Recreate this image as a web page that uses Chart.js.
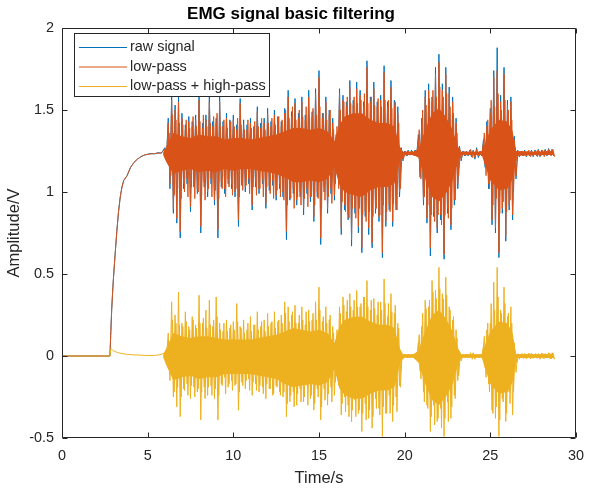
<!DOCTYPE html>
<html>
<head>
<meta charset="utf-8">
<title>EMG signal basic filtering</title>
<script src="https://cdn.jsdelivr.net/npm/chart.js@4/dist/chart.umd.min.js"></script>
<style>
  html, body { margin: 0; padding: 0; background: #fff; }
  canvas { display: block; }
</style>
</head>
<body>
<canvas id="emg-chart" width="593" height="489"></canvas>
<script>
var seriesLabels = ['raw signal', 'low-pass', 'low-pass + high-pass'];
var seriesColors = ['#0072BD', '#D95319', '#EDB120'];

var xTickValues = [0, 5, 10, 15, 20, 25, 30];
var xTickLabels = ['0', '5', '10', '15', '20', '25', '30'];
var yTickValues = [-0.5, 0, 0.5, 1, 1.5, 2];
var yTickLabels = ['-0.5', '0', '0.5', '1', '1.5', '2'];

// quiet start + step response of the filters (seconds / volts)
var riseTimes = [0, 2.8, 2.85, 2.9, 2.95, 3.0, 3.1, 3.2, 3.3, 3.4, 3.5, 3.6, 3.8, 4.0, 4.2, 4.4, 4.6, 4.8, 5.0, 5.2, 5.4, 5.6, 5.8];
var riseRaw = [0, 0, 0.15, 0.28, 0.38, 0.47, 0.62, 0.76, 0.88, 0.97, 1.03, 1.07, 1.10, 1.15, 1.18, 1.20, 1.215, 1.225, 1.23, 1.235, 1.232, 1.24, 1.236];
var riseLowPass = [0, 0, 0.15, 0.28, 0.38, 0.47, 0.62, 0.76, 0.88, 0.97, 1.03, 1.07, 1.10, 1.15, 1.18, 1.20, 1.215, 1.225, 1.23, 1.232, 1.235, 1.236, 1.238];
var riseBand = [0, 0, 0.045, 0.04, 0.036, 0.032, 0.027, 0.023, 0.02, 0.017, 0.015, 0.013, 0.01, 0.008, 0.007, 0.006, 0.005, 0.004, 0.003, 0.003, 0.004, 0.006, 0.01];

// spikes of the muscle activity part: peak read at each time, trough read half a step later
var burstTimes = [
  6.0, 6.2, 6.4, 6.6, 6.8, 7.0, 7.2, 7.4, 7.6, 7.8, 8.0, 8.2, 8.4, 8.6, 8.8, 9.0, 9.2, 9.4, 9.6, 9.8,
  10.0, 10.2, 10.4, 10.6, 10.8, 11.0, 11.2, 11.4, 11.6, 11.8, 12.0, 12.2, 12.4, 12.6, 12.8,
  13.0, 13.2, 13.4, 13.6, 13.8, 14.0, 14.2, 14.4, 14.6, 14.8, 15.0, 15.2, 15.4, 15.6, 15.8,
  16.0, 16.2, 16.4, 16.6, 16.8, 17.0, 17.2, 17.4, 17.6, 17.8, 18.0, 18.2, 18.4, 18.6, 18.8,
  19.0, 19.2, 19.4, 19.6, 19.8, 20.0, 20.2, 20.4, 20.6, 20.8, 21.0, 21.2, 21.4, 21.6, 21.8,
  22.0, 22.2, 22.4, 22.6, 22.8, 23.0, 23.2, 23.4, 23.6, 23.8, 24.0, 24.2, 24.4, 24.6, 24.8,
  25.0, 25.2, 25.4, 25.6, 25.8, 26.0, 26.2, 26.4, 26.6, 26.8, 27.0, 27.2, 27.4, 27.6, 27.8,
  28.0, 28.2, 28.4, 28.6
];

var rawPeaks = [
  1.27, 1.45, 1.59, 1.53, 1.58, 1.48, 1.41, 1.46, 1.43, 1.47, 1.59, 1.42, 1.47, 1.58, 1.43, 1.45, 1.58, 1.43, 1.48, 1.44,
  1.47, 1.41, 1.57, 1.44, 1.41, 1.45, 1.40, 1.52, 1.42, 1.45, 1.51, 1.43, 1.50, 1.46, 1.43,
  1.51, 1.62, 1.49, 1.57, 1.48, 1.58, 1.47, 1.62, 1.49, 1.63, 1.74, 1.48, 1.58, 1.50, 1.45,
  1.35, 1.63, 1.59, 1.55, 1.68, 1.56, 1.67, 1.62, 1.55, 1.80, 1.58, 1.67, 1.55, 1.59, 1.77,
  1.55, 1.68, 1.56, 1.52, 1.27, 1.25, 1.255, 1.255, 1.255, 1.35, 1.45, 1.62, 1.66, 1.58, 1.76,
  1.84, 1.66, 1.76, 1.64, 1.58, 1.45, 1.28, 1.25, 1.25, 1.255, 1.255, 1.27, 1.25, 1.32, 1.43,
  1.51, 1.74, 1.88, 1.59, 1.76, 1.56, 1.58, 1.34, 1.255, 1.25, 1.255, 1.25, 1.255, 1.255, 1.26,
  1.255, 1.26, 1.265, 1.26
];
var rawTroughs = [
  1.20, 1.02, 0.87, 0.81, 0.72, 1.02, 1.05, 0.88, 1.03, 0.99, 0.75, 1.03, 0.97, 1.05, 0.92, 0.72, 1.03, 0.99, 1.05, 1.02,
  0.97, 0.79, 1.04, 1.00, 1.05, 0.89, 1.03, 0.99, 1.05, 0.90, 1.01, 1.04, 0.95, 1.02, 0.97,
  0.71, 0.95, 0.99, 0.92, 0.97, 0.86, 0.99, 0.94, 0.82, 0.97, 0.68, 1.00, 0.87, 0.99, 0.95,
  1.11, 0.74, 0.89, 0.83, 0.67, 0.87, 0.75, 0.63, 0.85, 0.74, 0.66, 0.87, 0.82, 0.60, 0.79,
  0.89, 0.79, 0.89, 0.97, 1.19, 1.22, 1.225, 1.225, 1.22, 1.09, 0.92, 0.81, 0.61, 0.85, 0.75,
  0.83, 0.59, 0.87, 0.77, 0.92, 1.02, 1.19, 1.22, 1.22, 1.215, 1.20, 1.21, 1.22, 1.15, 1.02,
  0.80, 0.75, 0.60, 0.87, 0.70, 0.89, 0.83, 1.08, 1.215, 1.22, 1.215, 1.22, 1.215, 1.22, 1.215,
  1.225, 1.22, 1.225, 1.22
];

var lowPassPeaks = [
  1.26, 1.42, 1.56, 1.50, 1.55, 1.45, 1.38, 1.43, 1.40, 1.44, 1.56, 1.39, 1.44, 1.55, 1.40, 1.42, 1.55, 1.40, 1.45, 1.41,
  1.44, 1.38, 1.54, 1.41, 1.38, 1.42, 1.37, 1.49, 1.39, 1.42, 1.48, 1.40, 1.47, 1.43, 1.40,
  1.48, 1.58, 1.46, 1.54, 1.45, 1.55, 1.44, 1.58, 1.46, 1.60, 1.70, 1.45, 1.55, 1.47, 1.42,
  1.33, 1.60, 1.56, 1.52, 1.64, 1.53, 1.63, 1.59, 1.52, 1.76, 1.55, 1.63, 1.52, 1.56, 1.73,
  1.52, 1.64, 1.53, 1.48, 1.26, 1.245, 1.25, 1.25, 1.25, 1.32, 1.42, 1.58, 1.62, 1.55, 1.72,
  1.79, 1.62, 1.72, 1.60, 1.55, 1.42, 1.27, 1.245, 1.245, 1.25, 1.25, 1.26, 1.245, 1.30, 1.40,
  1.48, 1.70, 1.74, 1.55, 1.72, 1.53, 1.55, 1.32, 1.25, 1.245, 1.25, 1.245, 1.25, 1.25, 1.255,
  1.25, 1.255, 1.26, 1.255
];
var lowPassTroughs = [
  1.21, 1.05, 0.90, 0.84, 0.76, 1.05, 1.08, 0.91, 1.06, 1.02, 0.79, 1.06, 1.00, 1.08, 0.95, 0.77, 1.06, 1.02, 1.08, 1.05,
  1.00, 0.83, 1.07, 1.03, 1.08, 0.92, 1.06, 1.02, 1.08, 0.93, 1.04, 1.07, 0.98, 1.05, 1.00,
  0.76, 0.98, 1.02, 0.95, 1.00, 0.90, 1.02, 0.97, 0.85, 1.00, 0.72, 1.03, 0.90, 1.02, 0.98,
  1.12, 0.78, 0.92, 0.86, 0.71, 0.90, 0.79, 0.66, 0.88, 0.78, 0.69, 0.90, 0.85, 0.63, 0.82,
  0.92, 0.82, 0.92, 1.00, 1.20, 1.225, 1.23, 1.23, 1.225, 1.12, 0.95, 0.84, 0.66, 0.88, 0.78,
  0.86, 0.62, 0.90, 0.80, 0.95, 1.05, 1.20, 1.225, 1.225, 1.22, 1.21, 1.22, 1.225, 1.17, 1.05,
  0.83, 0.78, 0.63, 0.90, 0.73, 0.92, 0.86, 1.10, 1.22, 1.225, 1.22, 1.225, 1.22, 1.225, 1.22,
  1.23, 1.225, 1.23, 1.225
];
// in-between oscillations, read a quarter step after the spikes above
var lowPassMidPeaks = [
  1.25, 1.36, 1.47, 1.44, 1.42, 1.41, 1.44, 1.39, 1.46, 1.40, 1.43, 1.47, 1.40, 1.42, 1.46, 1.48, 1.40, 1.44, 1.39, 1.43,
  1.40, 1.45, 1.41, 1.38, 1.44, 1.39, 1.43, 1.40, 1.45, 1.38, 1.42, 1.45, 1.41, 1.46, 1.44,
  1.50, 1.45, 1.52, 1.44, 1.50, 1.46, 1.52, 1.45, 1.51, 1.47, 1.52, 1.48, 1.44, 1.50, 1.38,
  1.40, 1.50, 1.55, 1.58, 1.54, 1.58, 1.54, 1.56, 1.60, 1.54, 1.58, 1.53, 1.57, 1.52, 1.56,
  1.56, 1.51, 1.55, 1.42, 1.25, 1.25, 1.245, 1.25, 1.255, 1.38, 1.50, 1.53, 1.57, 1.62, 1.58,
  1.64, 1.58, 1.60, 1.52, 1.48, 1.36, 1.25, 1.25, 1.245, 1.26, 1.245, 1.25, 1.25, 1.36, 1.44,
  1.56, 1.52, 1.60, 1.50, 1.56, 1.50, 1.44, 1.27, 1.245, 1.25, 1.245, 1.255, 1.245, 1.255, 1.25,
  1.255, 1.25, 1.255, 1.26
];
var lowPassMidTroughs = [
  1.22, 1.10, 0.98, 1.02, 0.96, 1.00, 0.97, 1.03, 0.96, 1.00, 0.98, 0.95, 1.02, 0.97, 1.01, 0.96, 1.02, 0.97, 1.03, 0.98,
  1.02, 0.97, 1.01, 1.04, 0.99, 1.03, 0.98, 1.02, 0.97, 1.03, 0.99, 0.96, 1.01, 0.97, 0.95,
  0.92, 0.96, 0.90, 0.97, 0.92, 0.96, 0.91, 0.97, 0.92, 0.96, 0.90, 0.95, 0.97, 0.93, 1.05,
  1.02, 0.94, 0.88, 0.84, 0.90, 0.84, 0.90, 0.86, 0.82, 0.88, 0.85, 0.90, 0.86, 0.92, 0.88,
  0.88, 0.93, 0.89, 1.02, 1.21, 1.22, 1.225, 1.22, 1.215, 1.08, 0.97, 0.92, 0.86, 0.82, 0.86,
  0.80, 0.86, 0.84, 0.90, 0.95, 1.10, 1.22, 1.22, 1.225, 1.21, 1.225, 1.22, 1.22, 1.10, 1.02,
  0.92, 0.96, 0.87, 0.94, 0.88, 0.95, 1.00, 1.19, 1.225, 1.22, 1.225, 1.215, 1.225, 1.215, 1.22,
  1.215, 1.225, 1.22, 1.215
];

var bandPeaks = [
  0.02, 0.14, 0.33, 0.25, 0.39, 0.20, 0.27, 0.18, 0.24, 0.19, 0.37, 0.20, 0.28, 0.34, 0.18, 0.36, 0.20, 0.15, 0.22, 0.17,
  0.21, 0.32, 0.18, 0.22, 0.16, 0.24, 0.19, 0.27, 0.18, 0.22, 0.26, 0.20, 0.27, 0.21, 0.25,
  0.33, 0.30, 0.25, 0.31, 0.20, 0.30, 0.19, 0.28, 0.22, 0.33, 0.42, 0.21, 0.30, 0.22, 0.18,
  0.10, 0.30, 0.36, 0.27, 0.38, 0.28, 0.40, 0.30, 0.36, 0.46, 0.28, 0.35, 0.25, 0.33, 0.47,
  0.24, 0.38, 0.26, 0.20, 0.02, 0.01, 0.012, 0.01, 0.012, 0.08, 0.18, 0.34, 0.30, 0.46, 0.40,
  0.54, 0.38, 0.48, 0.30, 0.22, 0.16, 0.03, 0.01, 0.012, 0.01, 0.02, 0.012, 0.01, 0.06, 0.16,
  0.20, 0.45, 0.54, 0.28, 0.42, 0.24, 0.30, 0.08, 0.015, 0.012, 0.015, 0.012, 0.018, 0.012, 0.015,
  0.018, 0.015, 0.02, 0.018
];
var bandTroughs = [
  -0.02, -0.15, -0.25, -0.31, -0.37, -0.20, -0.17, -0.26, -0.19, -0.22, -0.39, -0.19, -0.24, -0.18, -0.26, -0.39, -0.17, -0.13, -0.19, -0.15,
  -0.18, -0.33, -0.16, -0.20, -0.14, -0.24, -0.17, -0.22, -0.19, -0.26, -0.20, -0.24, -0.18, -0.22, -0.25,
  -0.37, -0.28, -0.22, -0.30, -0.20, -0.28, -0.18, -0.26, -0.33, -0.20, -0.39, -0.20, -0.30, -0.19, -0.24,
  -0.10, -0.36, -0.25, -0.30, -0.40, -0.27, -0.35, -0.46, -0.29, -0.38, -0.44, -0.26, -0.32, -0.49, -0.35,
  -0.24, -0.40, -0.25, -0.18, -0.02, -0.01, -0.012, -0.01, -0.01, -0.09, -0.22, -0.30, -0.46, -0.30, -0.40,
  -0.32, -0.49, -0.28, -0.38, -0.24, -0.15, -0.03, -0.01, -0.01, -0.012, -0.02, -0.01, -0.01, -0.07, -0.17,
  -0.33, -0.38, -0.49, -0.26, -0.40, -0.22, -0.36, -0.10, -0.02, -0.012, -0.018, -0.012, -0.015, -0.012, -0.02,
  -0.015, -0.012, -0.018, -0.015
];
var bandMidPeaks = [
  0.01, 0.09, 0.22, 0.20, 0.19, 0.18, 0.21, 0.16, 0.22, 0.17, 0.20, 0.23, 0.17, 0.19, 0.22, 0.24, 0.16, 0.20, 0.15, 0.19,
  0.16, 0.21, 0.17, 0.14, 0.20, 0.15, 0.19, 0.16, 0.21, 0.15, 0.18, 0.21, 0.17, 0.22, 0.20,
  0.26, 0.21, 0.27, 0.20, 0.25, 0.22, 0.27, 0.21, 0.26, 0.22, 0.28, 0.24, 0.20, 0.25, 0.14,
  0.16, 0.26, 0.31, 0.34, 0.30, 0.34, 0.30, 0.32, 0.36, 0.30, 0.34, 0.29, 0.33, 0.28, 0.32,
  0.32, 0.27, 0.31, 0.17, 0.012, 0.012, 0.01, 0.012, 0.015, 0.13, 0.26, 0.29, 0.34, 0.39, 0.35,
  0.41, 0.35, 0.37, 0.28, 0.24, 0.11, 0.012, 0.01, 0.012, 0.02, 0.01, 0.012, 0.01, 0.12, 0.20,
  0.32, 0.28, 0.36, 0.26, 0.32, 0.26, 0.20, 0.03, 0.012, 0.015, 0.012, 0.018, 0.012, 0.015, 0.012,
  0.015, 0.012, 0.018, 0.02
];
var bandMidTroughs = [
  -0.01, -0.11, -0.22, -0.19, -0.25, -0.21, -0.24, -0.18, -0.25, -0.20, -0.22, -0.26, -0.19, -0.24, -0.20, -0.24, -0.18, -0.23, -0.17, -0.21,
  -0.17, -0.22, -0.18, -0.15, -0.21, -0.16, -0.21, -0.18, -0.23, -0.17, -0.20, -0.23, -0.19, -0.24, -0.22,
  -0.29, -0.24, -0.31, -0.23, -0.28, -0.25, -0.30, -0.24, -0.29, -0.25, -0.31, -0.27, -0.23, -0.28, -0.16,
  -0.18, -0.29, -0.34, -0.37, -0.33, -0.37, -0.33, -0.35, -0.39, -0.33, -0.37, -0.32, -0.36, -0.31, -0.35,
  -0.35, -0.30, -0.34, -0.19, -0.012, -0.012, -0.01, -0.012, -0.015, -0.14, -0.28, -0.32, -0.37, -0.42, -0.38,
  -0.44, -0.38, -0.40, -0.31, -0.26, -0.12, -0.012, -0.01, -0.012, -0.02, -0.01, -0.012, -0.01, -0.13, -0.22,
  -0.35, -0.31, -0.39, -0.28, -0.35, -0.29, -0.22, -0.04, -0.012, -0.015, -0.012, -0.018, -0.012, -0.015, -0.012,
  -0.015, -0.012, -0.018, -0.02
];

// dense (solid looking) core of the noise band, upper and lower edge
var coreTimes = [
  5.9, 6.1, 6.5, 7.0, 7.5, 8.0, 8.5, 9.0, 9.5, 10.0,
  10.5, 11.0, 11.5, 12.0, 12.5, 13.0, 13.5, 14.0, 14.5, 15.0,
  15.5, 15.9, 16.2, 16.5, 17.0, 17.5, 18.0, 18.5, 19.0, 19.4,
  19.7, 19.9, 20.5, 20.8, 21.2, 21.6, 22.0, 22.4, 22.8, 23.1,
  23.3, 24.0, 24.5, 24.7, 25.0, 25.5, 26.0, 26.3, 26.5, 27.5,
  28.7
];
var lowPassCoreHigh = [
  1.24, 1.28, 1.36, 1.34, 1.33, 1.35, 1.34, 1.34, 1.32, 1.33,
  1.33, 1.32, 1.33, 1.34, 1.35, 1.37, 1.39, 1.39, 1.38, 1.39,
  1.37, 1.31, 1.41, 1.46, 1.48, 1.48, 1.44, 1.42, 1.42, 1.40,
  1.28, 1.245, 1.245, 1.26, 1.38, 1.48, 1.51, 1.46, 1.38, 1.28,
  1.245, 1.245, 1.245, 1.30, 1.38, 1.44, 1.43, 1.37, 1.25, 1.245,
  1.25
];
var lowPassCoreLow = [
  1.225, 1.18, 1.11, 1.13, 1.14, 1.12, 1.13, 1.12, 1.14, 1.13,
  1.14, 1.14, 1.13, 1.12, 1.11, 1.09, 1.06, 1.06, 1.07, 1.06,
  1.08, 1.15, 1.04, 1.00, 0.98, 0.97, 1.01, 1.03, 1.03, 1.05,
  1.18, 1.225, 1.225, 1.21, 1.08, 0.97, 0.94, 0.99, 1.07, 1.18,
  1.225, 1.225, 1.225, 1.16, 1.07, 1.01, 1.02, 1.08, 1.22, 1.225,
  1.225
];
var bandCoreHigh = [
  0.008, 0.05, 0.14, 0.12, 0.11, 0.12, 0.12, 0.11, 0.10, 0.10,
  0.10, 0.10, 0.11, 0.12, 0.13, 0.15, 0.17, 0.16, 0.15, 0.16,
  0.14, 0.08, 0.18, 0.22, 0.24, 0.24, 0.21, 0.19, 0.19, 0.17,
  0.05, 0.01, 0.01, 0.03, 0.15, 0.25, 0.28, 0.23, 0.15, 0.05,
  0.01, 0.01, 0.01, 0.07, 0.15, 0.21, 0.20, 0.14, 0.012, 0.01,
  0.012
];
var bandCoreLow = [
  -0.008, -0.06, -0.15, -0.13, -0.12, -0.14, -0.13, -0.13, -0.11, -0.11,
  -0.11, -0.11, -0.12, -0.13, -0.14, -0.17, -0.19, -0.18, -0.17, -0.18,
  -0.16, -0.08, -0.20, -0.24, -0.26, -0.26, -0.23, -0.21, -0.21, -0.19,
  -0.06, -0.01, -0.01, -0.04, -0.17, -0.27, -0.30, -0.25, -0.17, -0.06,
  -0.01, -0.01, -0.01, -0.08, -0.17, -0.23, -0.22, -0.16, -0.012, -0.01,
  -0.012
];

var axisColor = '#262626';
var fontFamily = '"Liberation Sans", Arial, Helvetica, sans-serif';

function build_trace(riseValues, peaks, troughs)
{
    let points = riseTimes.map(function(t, i) { return {x: t, y: riseValues[i]}; });
    for (let i = 0; i < burstTimes.length; i++)
    {
        points.push({x: burstTimes[i], y: peaks[i]});
        points.push({x: burstTimes[i] + 0.1, y: troughs[i]});
    }
    return points;
}

function build_mid(peaks, troughs)
{
    let points = [];
    for (let i = 0; i < burstTimes.length; i++)
    {
        points.push({x: burstTimes[i] + 0.05, y: peaks[i]});
        points.push({x: burstTimes[i] + 0.15, y: troughs[i]});
    }
    return points;
}

function build_edge(values)
{
    return coreTimes.map(function(t, i) { return {x: t, y: values[i]}; });
}

function line_set(label, points, color, order, fill)
{
    return {
        label: label,
        data: points,
        borderColor: fill === false ? color : 'rgba(0,0,0,0)',
        backgroundColor: color,
        borderWidth: 1,
        pointRadius: 0,
        tension: 0,
        fill: fill,
        order: order
    };
}

// MATLAB style box, inward ticks and legend drawn over the data
var matlabFrame = {
    id: 'matlabFrame',
    afterDatasetsDraw: function(chart)
    {
        let ctx = chart.ctx;
        let a = chart.chartArea;
        let xs = chart.scales.x, ys = chart.scales.y;
        let l = Math.round(a.left) + 0.5, r = Math.round(a.right) - 0.5;
        let t = Math.round(a.top) + 0.5, b = Math.round(a.bottom) - 0.5;
        ctx.save();
        ctx.strokeStyle = axisColor;
        ctx.lineWidth = 1;
        ctx.beginPath();
        ctx.rect(l, t, r - l, b - t);
        xTickValues.forEach(function(v)
        {
            let px = Math.round(xs.getPixelForValue(v)) + 0.5;
            ctx.moveTo(px, b); ctx.lineTo(px, b - 5);
            ctx.moveTo(px, t); ctx.lineTo(px, t + 5);
        });
        yTickValues.forEach(function(v)
        {
            let py = Math.round(ys.getPixelForValue(v)) + 0.5;
            ctx.moveTo(l, py); ctx.lineTo(l + 5, py);
            ctx.moveTo(r, py); ctx.lineTo(r - 5, py);
        });
        ctx.stroke();

        // legend
        let bx = 74.5, by = 33.5, bw = 195, bh = 63;
        ctx.fillStyle = '#fff';
        ctx.fillRect(bx, by, bw, bh);
        ctx.strokeRect(bx, by, bw, bh);
        ctx.font = '14.4px ' + fontFamily;
        ctx.textBaseline = 'middle';
        ctx.textAlign = 'left';
        seriesLabels.forEach(function(label, i)
        {
            let rowY = 47.5 + i * 19.5;
            ctx.strokeStyle = seriesColors[i];
            ctx.beginPath();
            ctx.moveTo(79, rowY); ctx.lineTo(127, rowY);
            ctx.stroke();
            ctx.fillStyle = axisColor;
            ctx.fillText(label, 130, rowY);
        });
        ctx.restore();
    }
};

window.onload = function()
{
    let ctx = document.getElementById('emg-chart').getContext('2d');
    // index 0..4 are lines, 5..8 the two filled cores (upper edge fills down to the next set)
    let datasets = [
        line_set(seriesLabels[0], build_trace(riseRaw, rawPeaks, rawTroughs), seriesColors[0], 9, false),
        line_set(seriesLabels[1], build_trace(riseLowPass, lowPassPeaks, lowPassTroughs), seriesColors[1], 6, false),
        line_set(seriesLabels[2], build_trace(riseBand, bandPeaks, bandTroughs), seriesColors[2], 2, false),
        line_set('low-pass mid', build_mid(lowPassMidPeaks, lowPassMidTroughs), seriesColors[1], 5, false),
        line_set('band mid', build_mid(bandMidPeaks, bandMidTroughs), seriesColors[2], 1, false),
        line_set('low-pass core', build_edge(lowPassCoreHigh), seriesColors[1], 8, 6),
        line_set('low-pass core low', build_edge(lowPassCoreLow), 'rgba(0,0,0,0)', 7, false),
        line_set('band core', build_edge(bandCoreHigh), seriesColors[2], 4, 8),
        line_set('band core low', build_edge(bandCoreLow), 'rgba(0,0,0,0)', 3, false)
    ];
    new Chart(ctx, {
        type: 'line',
        data: { datasets: datasets },
        options: {
            responsive: false,
            animation: false,
            devicePixelRatio: 1,
            layout: { padding: { left: 0, right: 11, top: 0, bottom: 0 } },
            plugins: {
                legend: { display: false },
                tooltip: { enabled: false },
                title: {
                    display: true,
                    text: 'EMG signal basic filtering',
                    color: '#000',
                    font: { family: fontFamily, size: 17, weight: 'bold' },
                    padding: { top: 4, bottom: 3.6 }
                }
            },
            scales: {
                x: {
                    type: 'linear',
                    min: 0,
                    max: 30,
                    grid: { display: false, drawTicks: false },
                    border: { display: false },
                    afterBuildTicks: function(s) { s.ticks = xTickValues.map(function(v) { return {value: v}; }); },
                    afterFit: function(s) { s.height = 51; },
                    ticks: {
                        color: axisColor,
                        padding: 9,
                        maxRotation: 0,
                        autoSkip: false,
                        font: { family: fontFamily, size: 14.4 },
                        callback: function(v, i) { return xTickLabels[i]; }
                    },
                    title: {
                        display: true,
                        text: 'Time/s',
                        color: axisColor,
                        font: { family: fontFamily, size: 16.5 },
                        padding: { top: 0, bottom: 1 }
                    }
                },
                y: {
                    type: 'linear',
                    min: -0.5,
                    max: 2,
                    grid: { display: false, drawTicks: false },
                    border: { display: false },
                    afterBuildTicks: function(s) { s.ticks = yTickValues.map(function(v) { return {value: v}; }); },
                    afterFit: function(s) { s.width = 62; },
                    ticks: {
                        color: axisColor,
                        padding: 8,
                        autoSkip: false,
                        font: { family: fontFamily, size: 14.4 },
                        callback: function(v, i) { return yTickLabels[i]; }
                    },
                    title: {
                        display: true,
                        text: 'Amplitude/V',
                        color: axisColor,
                        font: { family: fontFamily, size: 16.5 },
                        padding: { top: 4.5, bottom: 0 }
                    }
                }
            }
        },
        plugins: [matlabFrame]
    });
};
</script>
</body>
</html>
